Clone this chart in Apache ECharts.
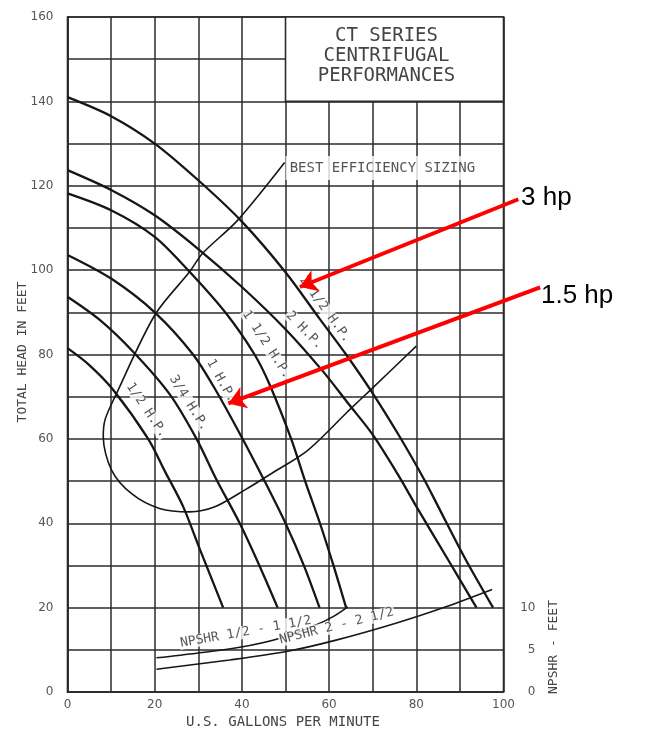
<!DOCTYPE html>
<html lang="en">
<head>
<meta charset="UTF-8">
<title>CT Series Centrifugal Performances</title>
<script src="https://cdn.jsdelivr.net/npm/echarts@6/dist/echarts.min.js"></script>
<style>
    html, body { margin: 0; padding: 0; background: #fff; }
    #chart { width: 647px; height: 732px; }
</style>
</head>
<body>
<div id="chart"></div>
<script>
    // pump curves, [gpm, total head in feet]
    var hp2_5 = [[0,141],[10,136.5],[20,130],[30,121.3],[40,111.5],[50,99.5],[57.8,88.5],[63.9,80],[70,70.8],[76.2,60.5],[81.9,50.2],[85,44],[91,32],[97.6,20]];
    var hp2   = [[0,123.7],[10,119],[20,113],[30,105],[40,96],[50,86],[58.6,76],[64.3,68.5],[70,61],[76.1,51],[80,44],[87.5,31],[93.8,20]];
    var hp1_5 = [[0,118.2],[10,114.2],[20,107.9],[28,99.6],[36.4,89.7],[42.9,80],[46.3,73],[51.3,60],[54.5,50],[57.9,40],[61,30],[63.9,20]];
    var hp1   = [[0,103.6],[10,98],[20,90],[28.8,80],[34.3,71],[39.9,60.5],[45.2,50],[50,40],[54.2,30],[57.8,20]];
    var hp3_4 = [[0,93.7],[7.4,88.2],[15.1,80.6],[23.5,70.5],[29.6,60],[34.1,50.5],[39.5,40],[44,30],[48.2,20]];
    var hp1_2 = [[0,81.5],[5,77.5],[10.5,71.6],[18.5,60],[22.5,52],[26.5,44],[30.3,34],[35.7,20]];

    // best efficiency sizing loop
    var efficiency = [[49.8,125.5],[39,111.8],[31,104],[28,99.6],[20,89.3],[10.9,70],[8.6,64.5],[8.2,60.5],[10.1,52.6],[14.7,47],[21.1,43.5],[28,42.7],[33.8,43.9],[40.7,47.9],[46.8,51.8],[55.1,57.3],[64.3,66.5],[69.7,71.8],[80,82]];

    // NPSHR curves, [gpm, NPSHR feet]
    var npshrSmall = [[20.4,4.05],[29.6,4.6],[39.5,5.3],[48.6,6.35],[56.2,7.75],[60.8,8.9],[64.3,10.1]];
    var npshrLarge = [[20.4,2.7],[37.2,3.8],[50.2,4.8],[61.6,6.15],[75.3,8.15],[86.8,10.1],[97.4,12.15]];

    // curve captions and where they sit, [gpm, head]
    var captionText = ['2 1/2 H.P.', '2 H.P.', '1 1/2 H.P.', '1 H.P.', '3/4 H.P.', '1/2 H.P.', 'NPSHR 1/2 - 1 1/2', 'NPSHR 2 - 2 1/2'];
    var captionAt   = [[57.8,89.7],[53.2,84.6],[44.3,81.5],[33.8,73],[26.5,67.6],[16.8,65.9],[41.2,12.6],[62.1,14]];
    var captionTilt = [-54, -46, -57, -61, -58, -56, 10, 14];

    var titleLines = ['CT SERIES', 'CENTRIFUGAL', 'PERFORMANCES'];
    var bestLabel = 'BEST EFFICIENCY SIZING';

    // red call-outs: from, to
    var calloutText = ['3 hp', '1.5 hp'];
    var calloutFrom = [[103.4,116.8],[108.4,95.9]];
    var calloutTo   = [[53.3,96],[36.9,68.4]];

    var chart = echarts.init(document.getElementById('chart'));

    var mono = 'DejaVu Sans Mono';
    var ink = '#161616';
    // plot scale, px per unit, used to nudge captions off their curves
    var pxX = 436 / 100, pxY = 675 / 160, lift = 7;

    function curve(data, w) {
        return {
            type: 'line', data: data, smooth: 0.3, showSymbol: false, silent: true,
            lineStyle: { color: ink, width: w || 2.3 }, z: 3
        };
    }

    var series = [
        curve(hp2_5), curve(hp2), curve(hp1_5), curve(hp1), curve(hp3_4), curve(hp1_2)
    ];

    var eff = curve(efficiency, 1.6);
    eff.markArea = {
        silent: true,
        itemStyle: { color: '#fff', borderColor: '#2b2b2b', borderWidth: 1.6 },
        label: {
            show: true, position: 'inside', offset: [-8, -3],
            formatter: titleLines.join('\n'),
            fontFamily: mono, fontSize: 19, lineHeight: 20, color: '#444'
        },
        data: [[{ coord: [50, 160] }, { coord: [100, 140] }]]
    };
    series.push(eff);

    var ns1 = curve(npshrSmall, 1.6); ns1.yAxisIndex = 1;
    var ns2 = curve(npshrLarge, 1.6); ns2.yAxisIndex = 1;
    series.push(ns1, ns2);

    series.push({
        type: 'scatter', symbolSize: 0, silent: true, z: 6,
        data: captionAt.map(function (p, i) {
            var r = captionTilt[i] * Math.PI / 180;
            // move the caption sideways so it sits beside its curve
            var dx = -Math.sin(r) * lift, dy = -Math.cos(r) * lift;
            return {
                value: [p[0] + dx / pxX, p[1] - dy / pxY],
                name: captionText[i],
                label: { rotate: captionTilt[i] }
            };
        }),
        label: {
            show: true, position: 'inside', formatter: '{b}',
            fontFamily: mono, fontSize: 13, color: '#2a2a2a',
            backgroundColor: '#fff', padding: [0, 1]
        }
    });

    series.push({
        type: 'scatter', symbolSize: 0, silent: true, z: 6,
        data: [{ value: [49.8, 124.2], name: bestLabel }],
        label: {
            show: true, position: 'right', distance: 1, formatter: '{b}',
            fontFamily: mono, fontSize: 14, color: '#2a2a2a',
            backgroundColor: '#fff', padding: [5, 4]
        }
    });

    series.push({
        type: 'lines', coordinateSystem: 'cartesian2d', clip: false, silent: true, z: 10,
        symbol: ['none', 'arrow'], symbolSize: 17,
        lineStyle: { color: '#ff0000', width: 4, opacity: 1, curveness: 0 },
        data: calloutFrom.map(function (p, i) { return { coords: [p, calloutTo[i]] }; })
    });

    var option = {
        animation: false,
        backgroundColor: '#fff',
        grid: { left: 67.5, right: 143.5, top: 17, bottom: 40, show: true, borderColor: '#2b2b2b', borderWidth: 1.6 },
        xAxis: {
            type: 'value', min: 0, max: 100, interval: 10,
            axisLine: { show: true, lineStyle: { color: '#2b2b2b', width: 1.6 } },
            axisTick: { show: false },
            splitLine: { show: true, lineStyle: { color: '#2b2b2b', width: 1.5 } },
            axisLabel: {
                formatter: function (v) { return v % 20 === 0 ? v : ''; },
                color: '#555', fontFamily: 'DejaVu Sans', fontSize: 12, margin: 7
            }
        },
        yAxis: [{
            type: 'value', min: 0, max: 160, interval: 10,
            axisLine: { show: true, lineStyle: { color: '#2b2b2b', width: 1.6 } },
            axisTick: { show: false },
            splitLine: { show: true, lineStyle: { color: '#2b2b2b', width: 1.5 } },
            axisLabel: {
                formatter: function (v) { return v % 20 === 0 ? v : ''; },
                color: '#555', fontFamily: 'DejaVu Sans', fontSize: 12, margin: 14
            }
        }, {
            type: 'value', min: 0, max: 80, interval: 5, position: 'right',
            axisLine: { show: false }, axisTick: { show: false }, splitLine: { show: false },
            axisLabel: {
                formatter: function (v) { return v <= 10 ? v : ''; },
                color: '#555', fontFamily: 'DejaVu Sans', fontSize: 12, margin: 32, align: 'right'
            }
        }],
        graphic: [
            { type: 'text', x: 23, y: 352, rotation: Math.PI / 2, silent: true,
              style: { text: 'TOTAL HEAD IN FEET', font: '13px ' + mono, fill: '#444', align: 'center', verticalAlign: 'middle' } },
            { type: 'text', x: 283, y: 722, silent: true,
              style: { text: 'U.S. GALLONS PER MINUTE', font: '14px ' + mono, fill: '#444', align: 'center', verticalAlign: 'middle' } },
            { type: 'text', x: 554, y: 647, rotation: Math.PI / 2, silent: true,
              style: { text: 'NPSHR - FEET', font: '13px ' + mono, fill: '#444', align: 'center', verticalAlign: 'middle' } },
            { type: 'text', left: 521, top: 185, silent: true,
              style: { text: calloutText[0], font: '26px "Liberation Sans", Arial', fill: '#000' } },
            { type: 'text', left: 541, top: 283, silent: true,
              style: { text: calloutText[1], font: '26px "Liberation Sans", Arial', fill: '#000' } }
        ],
        series: series
    };

    chart.setOption(option);
</script>
</body>
</html>
